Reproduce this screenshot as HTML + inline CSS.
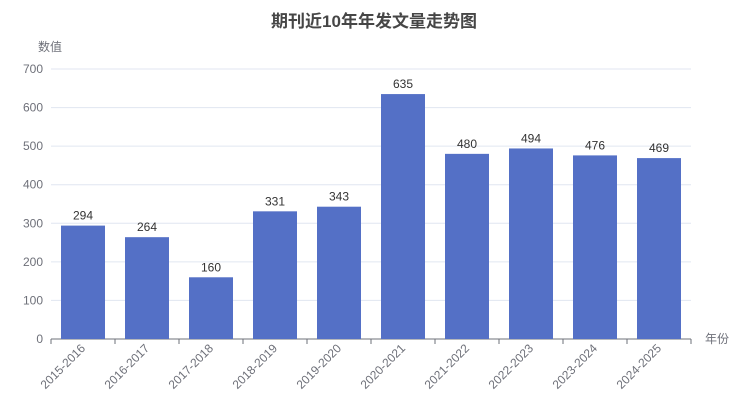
<!DOCTYPE html>
<html><head><meta charset="utf-8"><style>
body{margin:0;background:#fff;}
svg text{font-family:"Liberation Sans","Noto Sans CJK SC",sans-serif;}
</style></head><body>
<svg id="chart" width="748" height="412">
<text x="374" y="27" text-anchor="middle" font-size="17" font-weight="bold" fill="#464646">期刊近10年年发文量走势图</text>
<text x="38" y="51" font-size="12" fill="#6e7079">数值</text>
<text x="705" y="343" font-size="12" fill="#6e7079">年份</text>
<g id="grid"></g><g id="bars"></g><g id="xaxis"></g>
</svg>
<script>
const categories=["2015-2016","2016-2017","2017-2018","2018-2019","2019-2020","2020-2021","2021-2022","2022-2023","2023-2024","2024-2025"];
const values=[294,264,160,331,343,635,480,494,476,469];
const yTicks=[0,100,200,300,400,500,600,700];
const ns="http://www.w3.org/2000/svg";
const L=51,R=691,T=69,B=339,yMax=700;
const y=v=>B-(B-T)*v/yMax;
const bw=(R-L)/categories.length;
const x=i=>L+bw*i;
function mk(tag,attrs,parent,txt){const e=document.createElementNS(ns,tag);for(const k in attrs)e.setAttribute(k,attrs[k]);if(txt!=null)e.textContent=txt;parent.appendChild(e);return e;}
const grid=document.getElementById('grid'),bars=document.getElementById('bars'),xa=document.getElementById('xaxis');
yTicks.forEach(t=>{
  const l=mk('line',{x1:L,x2:R,y1:y(t),y2:y(t),stroke:t===0?'#6e7079':'#e0e6f1'},grid);
  
  
  const tx=mk('text',{x:L-8,y:y(t)+4,'text-anchor':'end','font-size':12,fill:'#6e7079'},grid,t);
  
  
});
categories.forEach((c,i)=>{
  const cx=x(i)+bw/2;
  const r=mk('rect',{x:cx-22,y:y(values[i]),width:44,height:B-y(values[i]),fill:'#5470c6'},bars);
  
  
  const v=mk('text',{x:cx,y:y(values[i])-6,'text-anchor':'middle','font-size':12,fill:'#333'},bars,values[i]);
  
  
  const tk=mk('line',{x1:x(i),x2:x(i),y1:B,y2:B+5,stroke:'#6e7079'},xa);
  
  
  const lb=mk('text',{x:cx+3,y:B+10,'text-anchor':'end','font-size':12,fill:'#6e7079',transform:`rotate(-45 ${cx+3} ${B+10})`},xa,c);
  
  
});
const lt=mk('line',{x1:R,x2:R,y1:B,y2:B+5,stroke:'#6e7079'},xa);


</script>
</body></html>
